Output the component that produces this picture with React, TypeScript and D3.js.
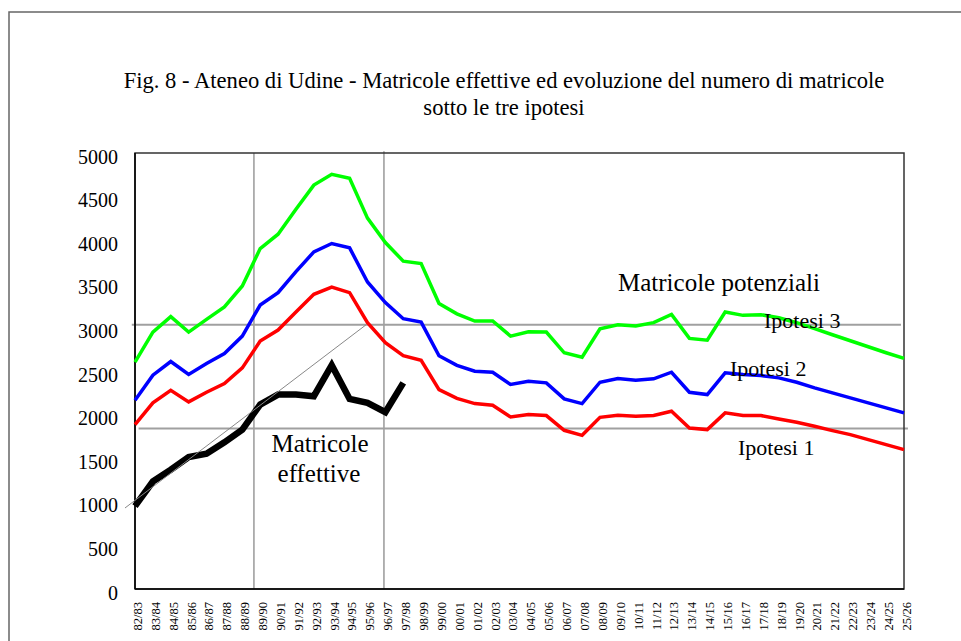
import React from "react";
import * as d3 from "d3";

const categories = [
  "82/83","83/84","84/85","85/86","86/87","87/88","88/89","89/90","90/91","91/92",
  "92/93","93/94","94/95","95/96","96/97","97/98","98/99","99/00","00/01","01/02",
  "02/03","03/04","04/05","05/06","06/07","07/08","08/09","09/10","10/11","11/12",
  "12/13","13/14","14/15","15/16","16/17","17/18","18/19","19/20","20/21","21/22",
  "22/23","23/24","24/25","25/26",
];

const ipotesi3 = [
  2601, 2946, 3123, 2946, 3092, 3234, 3475, 3904, 4069, 4356,
  4632, 4755, 4709, 4253, 3973, 3760, 3732, 3275, 3155, 3072,
  3073, 2900, 2950, 2946, 2709, 2659, 2985, 3031, 3015, 3054,
  3149, 2874, 2854, 3176, 3138, 3146, 3111, 3054, 2985, 2916,
  2847, 2778, 2709, 2644,
];

const ipotesi2 = [
  2164, 2452, 2609, 2460, 2586, 2701, 2900, 3256, 3398, 3640,
  3866, 3962, 3912, 3521, 3284, 3100, 3061, 2674, 2565, 2498,
  2486, 2345, 2383, 2364, 2180, 2126, 2371, 2414, 2394, 2410,
  2486, 2256, 2230, 2479, 2460, 2448, 2421, 2371, 2307, 2249,
  2192, 2134, 2077, 2020,
];

const ipotesi1 = [
  1885, 2134, 2279, 2146, 2256, 2356, 2536, 2843, 2969, 3176,
  3379, 3463, 3398, 3054, 2824, 2675, 2622, 2287, 2186, 2126,
  2107, 1973, 2000, 1989, 1820, 1762, 1969, 1992, 1981, 1989,
  2038, 1847, 1828, 2020, 1989, 1989, 1950, 1912, 1866, 1816,
  1770, 1713, 1655, 1598,
];

const effettive = [
  950, 1233, 1368, 1513, 1552, 1682, 1828, 2115, 2230, 2230,
  2211, 2567, 2180, 2134, 2027, 2364,
];

const yTicks = [0, 500, 1000, 1500, 2000, 2500, 3000, 3500, 4000, 4500, 5000];

const titleLines = [
  "Fig. 8 - Ateneo di Udine - Matricole effettive ed evoluzione del numero di matricole",
  "sotto le tre ipotesi",
];

const FONT = "'Liberation Serif', 'Times New Roman', serif";

export default function App() {
  const left = 135, right = 904, top = 153, bottom = 589;
  const x = d3.scaleLinear().domain([0, categories.length - 1]).range([left, right]);
  const y = d3.scaleLinear().domain([0, 5000]).range([bottom, top]);

  const line = d3
    .line<number>()
    .x((_, i) => x(i))
    .y((d) => y(d));

  const series = [
    { data: ipotesi3, color: "#00ff00", w: 3.5 },
    { data: ipotesi2, color: "#0000ff", w: 3.5 },
    { data: ipotesi1, color: "#ff0000", w: 3.5 },
  ];

  return (
    <svg
      width={961}
      height={641}
      style={{ position: "absolute", left: 0, top: 0, background: "#fff" }}
      fontFamily={FONT}
    >
      <rect x={0} y={0} width={961} height={641} fill="#fff" />
      {/* outer frame */}
      <rect x={9} y={12} width={1000} height={1000} fill="none" stroke="#666" strokeWidth={1.5} />

      {/* title */}
      {titleLines.map((t, i) => (
        <text key={i} x={504} y={88 + i * 27} textAnchor="middle" fontSize={22.6} fill="#000">
          {t}
        </text>
      ))}

      {/* reference lines */}
      <line x1={x(6.65)} x2={x(6.65)} y1={y(5000)} y2={y(0)} stroke="#999" strokeWidth={1.5} />
      <line x1={x(13.92)} x2={x(13.92)} y1={y(5020)} y2={y(0)} stroke="#999" strokeWidth={1.5} />
      <line x1={x(-0.18)} x2={x(42.83)} y1={y(3030)} y2={y(3030)} stroke="#a0a0a0" strokeWidth={2} />
      <line x1={x(0.2)} x2={x(43.22)} y1={y(1840)} y2={y(1840)} stroke="#a0a0a0" strokeWidth={2} />

      {/* plot border */}
      <rect x={left} y={top} width={right - left} height={bottom - top} fill="none" stroke="#333" strokeWidth={1.5} />
      <line x1={left} x2={left} y1={top} y2={bottom} stroke="#000" strokeWidth={1.5} />
      <line x1={left} x2={right} y1={bottom} y2={bottom} stroke="#000" strokeWidth={1.5} />

      {/* y ticks */}
      {yTicks.map((t) => (
        <text key={t} x={118} y={y(t) + 10.5} textAnchor="end" fontSize={20} fill="#000">
          {t}
        </text>
      ))}

      {/* x labels */}
      {categories.map((c, i) => (
        <text
          key={c}
          transform={`translate(${x(i) + 2.5},${bottom + 13}) rotate(-90)`}
          textAnchor="end"
          dy="0.35em"
          fontSize={12.5}
          fill="#000"
        >
          {c}
        </text>
      ))}

      {/* series */}
      {series.map((s, i) => (
        <path key={i} d={line(s.data) || ""} fill="none" stroke={s.color} strokeWidth={s.w} strokeLinejoin="miter" />
      ))}
      <path d={line(effettive) || ""} fill="none" stroke="#000" strokeWidth={6.5} strokeLinejoin="miter" />

      {/* diagonal trend line */}
      <line x1={x(-0.56)} y1={y(929)} x2={x(12.92)} y2={y(3030)} stroke="#888" strokeWidth={1} />

      {/* annotations */}
      <text x={618} y={291} fontSize={25} fill="#000">Matricole potenziali</text>
      <text x={764} y={328} fontSize={22} fill="#000">Ipotesi 3</text>
      <text x={730} y={376} fontSize={22} fill="#000">Ipotesi 2</text>
      <text x={738} y={455} fontSize={22} fill="#000">Ipotesi 1</text>
      <text x={320} y={452} textAnchor="middle" fontSize={25} fill="#000">Matricole</text>
      <text x={319} y={482} textAnchor="middle" fontSize={25} fill="#000">effettive</text>
    </svg>
  );
}
